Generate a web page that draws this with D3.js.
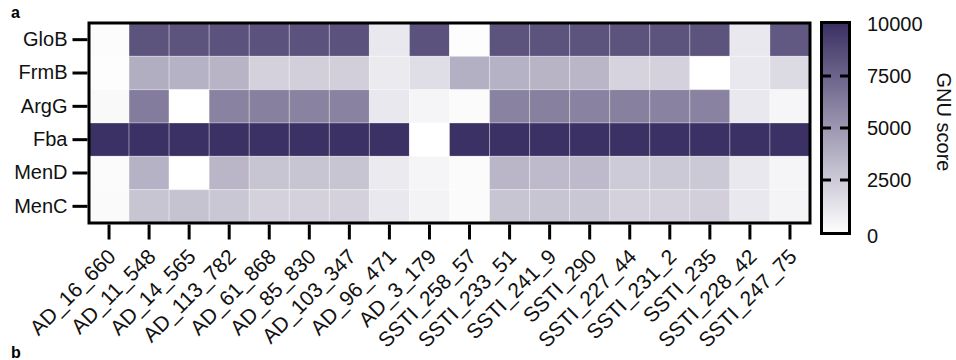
<!DOCTYPE html>
<html><head><meta charset="utf-8">
<script src="https://cdn.jsdelivr.net/npm/d3@7"></script>
<style>body{margin:0;background:#fff}svg{display:block}text{font-family:"Liberation Sans",Arial,sans-serif}</style>
</head><body><svg id="c" width="956" height="360"></svg>
<script>
const genes = ["GloB","FrmB","ArgG","Fba","MenD","MenC"];
const strains = ["AD_16_660","AD_11_548","AD_14_565","AD_113_782","AD_61_868","AD_85_830","AD_103_347","AD_96_471","AD_3_179",
  "SSTI_258_57","SSTI_233_51","SSTI_241_9","SSTI_290","SSTI_227_44","SSTI_231_2","SSTI_235","SSTI_228_42","SSTI_247_75"];
const GloB = [150,8200,8200,8300,8300,8300,8300,1100,8300,100,8200,8200,8200,8200,8200,8200,1100,8000];
const FrmB = [100,3900,3700,3600,2200,2300,2300,1000,1600,3800,3700,3600,3500,2100,2200,0,1100,1800];
const ArgG = [300,6300,0,6000,6100,6000,6000,1100,500,200,6000,6100,6000,6100,6000,6000,1100,450];
const Fba  = [9900,9900,9900,9900,9900,9900,9900,9900,0,9900,9900,9900,9900,9900,9900,9900,9900,9900];
const MenD = [200,3700,0,3500,2800,2800,2800,1000,500,200,3500,3300,3300,2500,2600,2600,1100,500];
const MenC = [250,2800,2900,2700,2200,2200,2200,1100,600,200,2800,2800,2700,2200,2200,2300,1100,550];
const seriesValues = [GloB,FrmB,ArgG,Fba,MenD,MenC];
const scaleTicks = [0,2500,5000,7500,10000];

const svg = d3.select("#c");
const x = d3.scaleBand().domain(strains).range([89,810]);
const y = d3.scaleBand().domain(genes).range([23,223]);
const color = d3.scaleLinear().domain([0,10000]).range(["#ffffff","#3a2f62"]).interpolate(d3.interpolateRgb).clamp(true);

const cells = [];
genes.forEach((g,i)=>strains.forEach((s,j)=>cells.push({g,s,v:seriesValues[i][j]})));
svg.append("g").selectAll("rect").data(cells).join("rect")
  .attr("x",d=>x(d.s)).attr("y",d=>y(d.g))
  .attr("width",x.bandwidth()).attr("height",y.bandwidth())
  .attr("fill",d=>color(d.v))
  .attr("stroke","#ffffff").attr("stroke-opacity",0.3).attr("stroke-width",1);

svg.append("rect").attr("x",89).attr("y",23).attr("width",721).attr("height",200)
  .attr("fill","none").attr("stroke","#000").attr("stroke-width",3);

const ya = svg.append("g").attr("transform","translate(87.5,0)")
  .call(d3.axisLeft(y).tickSize(15).tickPadding(5));
ya.select(".domain").remove();
ya.selectAll("line").attr("stroke","#000").attr("stroke-width",3);
ya.selectAll("text").attr("font-size",20).attr("fill","#111");

const xa = svg.append("g").attr("transform","translate(0,224.5)")
  .call(d3.axisBottom(x).tickSize(15).tickFormat(""));
xa.select(".domain").remove();
xa.selectAll("line").attr("stroke","#000").attr("stroke-width",3);
svg.append("g").selectAll("text").data(strains).join("text")
  .attr("transform",d=>`translate(${x(d)+x.bandwidth()/2+8},258) rotate(-45)`)
  .attr("text-anchor","end").attr("font-size",21).attr("fill","#111").text(d=>d);

// colorbar
const cy = d3.scaleLinear().domain([0,10000]).range([232,24]);
const defs = svg.append("defs");
const grad = defs.append("linearGradient").attr("id","g").attr("x1",0).attr("y1",1).attr("x2",0).attr("y2",0);
d3.range(0,1.01,0.1).forEach(t=>grad.append("stop").attr("offset",t).attr("stop-color",color(t*10000)));
svg.append("rect").attr("x",821.5).attr("y",cy(10000)-1.5).attr("width",28).attr("height",cy(0)-cy(10000)+3)
  .attr("fill","url(#g)").attr("stroke","#000").attr("stroke-width",3);
const dashT = scaleTicks.filter(t=>t>0&&t<10000);
svg.append("g").selectAll("line.l").data(dashT).join("line")
  .attr("x1",822).attr("x2",831).attr("y1",d=>cy(d)).attr("y2",d=>cy(d)).attr("stroke","#000").attr("stroke-width",3);
svg.append("g").selectAll("line.r").data(dashT).join("line")
  .attr("x1",840).attr("x2",849).attr("y1",d=>cy(d)).attr("y2",d=>cy(d)).attr("stroke","#000").attr("stroke-width",3);
svg.append("g").selectAll("text").data(scaleTicks).join("text")
  .attr("x",867).attr("y",d=>cy(d)+(d===0?4:0)).attr("dy","0.35em").attr("font-size",20).attr("fill","#111").text(d=>d);
svg.append("text").attr("transform","translate(937,122) rotate(90)").attr("text-anchor","middle")
  .attr("font-size",20).attr("fill","#111").text("GNU score");

svg.append("text").attr("x",11).attr("y",18).attr("font-size",16).attr("font-weight","bold").text("a");
svg.append("text").attr("x",11).attr("y",358).attr("font-size",16).attr("font-weight","bold").text("b");
</script></body></html>
